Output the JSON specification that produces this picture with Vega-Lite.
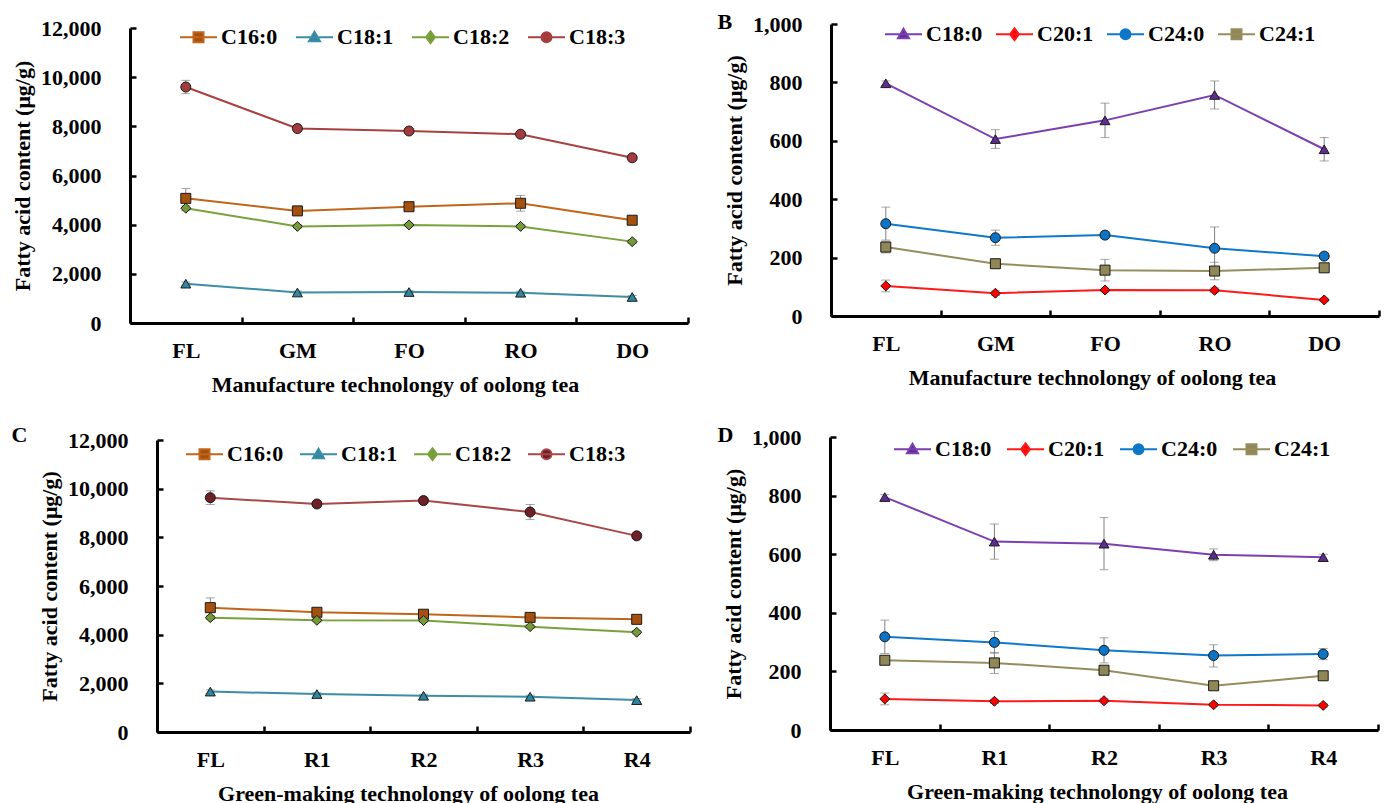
{
  "$schema": "https://vega.github.io/schema/vega-lite/v6.json",
  "background": "white",
  "padding": {"left": 11, "top": 11, "right": 0, "bottom": 0},
  "datasets": {
    "a": [
      {"stage": "FL", "acid": "C16:0", "value": 5070, "lo": 4670, "hi": 5470},
      {"stage": "GM", "acid": "C16:0", "value": 4560, "lo": 4460, "hi": 4660},
      {"stage": "FO", "acid": "C16:0", "value": 4730, "lo": 4620, "hi": 4840},
      {"stage": "RO", "acid": "C16:0", "value": 4870, "lo": 4550, "hi": 5190},
      {"stage": "DO", "acid": "C16:0", "value": 4180, "lo": 4080, "hi": 4280},
      {"stage": "FL", "acid": "C18:1", "value": 1600, "lo": 1530, "hi": 1670},
      {"stage": "GM", "acid": "C18:1", "value": 1240, "lo": 1180, "hi": 1300},
      {"stage": "FO", "acid": "C18:1", "value": 1260, "lo": 1200, "hi": 1320},
      {"stage": "RO", "acid": "C18:1", "value": 1230, "lo": 1170, "hi": 1290},
      {"stage": "DO", "acid": "C18:1", "value": 1060, "lo": 1000, "hi": 1120},
      {"stage": "FL", "acid": "C18:2", "value": 4670, "lo": 4570, "hi": 4770},
      {"stage": "GM", "acid": "C18:2", "value": 3930, "lo": 3860, "hi": 4000},
      {"stage": "FO", "acid": "C18:2", "value": 3990, "lo": 3920, "hi": 4060},
      {"stage": "RO", "acid": "C18:2", "value": 3930, "lo": 3860, "hi": 4000},
      {"stage": "DO", "acid": "C18:2", "value": 3310, "lo": 3240, "hi": 3380},
      {"stage": "FL", "acid": "C18:3", "value": 9600, "lo": 9330, "hi": 9870},
      {"stage": "GM", "acid": "C18:3", "value": 7910, "lo": 7830, "hi": 7990},
      {"stage": "FO", "acid": "C18:3", "value": 7810, "lo": 7730, "hi": 7890},
      {"stage": "RO", "acid": "C18:3", "value": 7680, "lo": 7600, "hi": 7760},
      {"stage": "DO", "acid": "C18:3", "value": 6720, "lo": 6640, "hi": 6800}
    ],
    "b": [
      {"stage": "FL", "acid": "C18:0", "value": 797, "lo": 789, "hi": 805},
      {"stage": "GM", "acid": "C18:0", "value": 606, "lo": 574, "hi": 638},
      {"stage": "FO", "acid": "C18:0", "value": 670, "lo": 611, "hi": 729},
      {"stage": "RO", "acid": "C18:0", "value": 757, "lo": 709, "hi": 805},
      {"stage": "DO", "acid": "C18:0", "value": 571, "lo": 531, "hi": 611},
      {"stage": "FL", "acid": "C20:1", "value": 103, "lo": 83, "hi": 123},
      {"stage": "GM", "acid": "C20:1", "value": 78, "lo": 70, "hi": 86},
      {"stage": "FO", "acid": "C20:1", "value": 89, "lo": 82, "hi": 96},
      {"stage": "RO", "acid": "C20:1", "value": 88, "lo": 80, "hi": 96},
      {"stage": "DO", "acid": "C20:1", "value": 55, "lo": 49, "hi": 61},
      {"stage": "FL", "acid": "C24:0", "value": 316, "lo": 260, "hi": 373},
      {"stage": "GM", "acid": "C24:0", "value": 268, "lo": 242, "hi": 294},
      {"stage": "FO", "acid": "C24:0", "value": 277, "lo": 265, "hi": 289},
      {"stage": "RO", "acid": "C24:0", "value": 232, "lo": 160, "hi": 305},
      {"stage": "DO", "acid": "C24:0", "value": 205, "lo": 197, "hi": 213},
      {"stage": "FL", "acid": "C24:1", "value": 236, "lo": 216, "hi": 256},
      {"stage": "GM", "acid": "C24:1", "value": 179, "lo": 170, "hi": 188},
      {"stage": "FO", "acid": "C24:1", "value": 157, "lo": 120, "hi": 194},
      {"stage": "RO", "acid": "C24:1", "value": 154, "lo": 124, "hi": 184},
      {"stage": "DO", "acid": "C24:1", "value": 165, "lo": 157, "hi": 173}
    ],
    "c": [
      {"stage": "FL", "acid": "C16:0", "value": 5110, "lo": 4710, "hi": 5510},
      {"stage": "R1", "acid": "C16:0", "value": 4920, "lo": 4820, "hi": 5020},
      {"stage": "R2", "acid": "C16:0", "value": 4840, "lo": 4740, "hi": 4940},
      {"stage": "R3", "acid": "C16:0", "value": 4710, "lo": 4610, "hi": 4810},
      {"stage": "R4", "acid": "C16:0", "value": 4630, "lo": 4560, "hi": 4700},
      {"stage": "FL", "acid": "C18:1", "value": 1660, "lo": 1590, "hi": 1730},
      {"stage": "R1", "acid": "C18:1", "value": 1560, "lo": 1500, "hi": 1620},
      {"stage": "R2", "acid": "C18:1", "value": 1490, "lo": 1430, "hi": 1550},
      {"stage": "R3", "acid": "C18:1", "value": 1450, "lo": 1390, "hi": 1510},
      {"stage": "R4", "acid": "C18:1", "value": 1310, "lo": 1250, "hi": 1370},
      {"stage": "FL", "acid": "C18:2", "value": 4700, "lo": 4620, "hi": 4780},
      {"stage": "R1", "acid": "C18:2", "value": 4590, "lo": 4520, "hi": 4660},
      {"stage": "R2", "acid": "C18:2", "value": 4580, "lo": 4510, "hi": 4650},
      {"stage": "R3", "acid": "C18:2", "value": 4330, "lo": 4260, "hi": 4400},
      {"stage": "R4", "acid": "C18:2", "value": 4100, "lo": 4030, "hi": 4170},
      {"stage": "FL", "acid": "C18:3", "value": 9630, "lo": 9350, "hi": 9910},
      {"stage": "R1", "acid": "C18:3", "value": 9370, "lo": 9290, "hi": 9450},
      {"stage": "R2", "acid": "C18:3", "value": 9510, "lo": 9430, "hi": 9590},
      {"stage": "R3", "acid": "C18:3", "value": 9040, "lo": 8730, "hi": 9350},
      {"stage": "R4", "acid": "C18:3", "value": 8060, "lo": 7980, "hi": 8140}
    ],
    "d": [
      {"stage": "FL", "acid": "C18:0", "value": 795, "lo": 787, "hi": 803},
      {"stage": "R1", "acid": "C18:0", "value": 643, "lo": 583, "hi": 703},
      {"stage": "R2", "acid": "C18:0", "value": 636, "lo": 547, "hi": 725},
      {"stage": "R3", "acid": "C18:0", "value": 598, "lo": 578, "hi": 618},
      {"stage": "R4", "acid": "C18:0", "value": 590, "lo": 580, "hi": 600},
      {"stage": "FL", "acid": "C20:1", "value": 106, "lo": 86, "hi": 126},
      {"stage": "R1", "acid": "C20:1", "value": 98, "lo": 91, "hi": 105},
      {"stage": "R2", "acid": "C20:1", "value": 100, "lo": 93, "hi": 107},
      {"stage": "R3", "acid": "C20:1", "value": 86, "lo": 80, "hi": 92},
      {"stage": "R4", "acid": "C20:1", "value": 84, "lo": 78, "hi": 90},
      {"stage": "FL", "acid": "C24:0", "value": 318, "lo": 261, "hi": 375},
      {"stage": "R1", "acid": "C24:0", "value": 299, "lo": 262, "hi": 336},
      {"stage": "R2", "acid": "C24:0", "value": 272, "lo": 229, "hi": 315},
      {"stage": "R3", "acid": "C24:0", "value": 254, "lo": 215, "hi": 291},
      {"stage": "R4", "acid": "C24:0", "value": 259, "lo": 240, "hi": 278},
      {"stage": "FL", "acid": "C24:1", "value": 238, "lo": 228, "hi": 248},
      {"stage": "R1", "acid": "C24:1", "value": 229, "lo": 193, "hi": 265},
      {"stage": "R2", "acid": "C24:1", "value": 204, "lo": 194, "hi": 214},
      {"stage": "R3", "acid": "C24:1", "value": 151, "lo": 142, "hi": 160},
      {"stage": "R4", "acid": "C24:1", "value": 185, "lo": 175, "hi": 195}
    ]
  },
  "columns": 2,
  "align": "none",
  "bounds": "full",
  "spacing": {"row": 29, "column": 25},
  "concat": [
    {
      "width": 558, "height": 299,
      "data": {"name": "a"},
      "resolve": {"scale": {"fill": "independent", "shape": "independent", "stroke": "independent"}},
      "layer": [
        {"mark": {"type": "rule", "color": "#808080", "strokeWidth": 1},
         "encoding": {
           "x": {"field": "stage", "type": "nominal", "scale": {"domain": ["FL", "GM", "FO", "RO", "DO"], "paddingInner": 0, "paddingOuter": 0}, "axis": {"title": "Manufacture technolongy of oolong tea", "titleX": 265}},
           "y": {"field": "lo", "type": "quantitative", "scale": {"domain": [0, 12000], "nice": false, "range": [299, 4]}, "axis": {"title": "Fatty acid content (μg/g)", "values": [0, 2000, 4000, 6000, 8000, 10000, 12000]}},
           "y2": {"field": "hi"}}},
        {"mark": {"type": "tick", "color": "#808080", "thickness": 1, "size": 9, "orient": "horizontal"},
         "encoding": {"x": {"field": "stage", "type": "nominal"}, "y": {"field": "lo", "type": "quantitative"}}},
        {"mark": {"type": "tick", "color": "#808080", "thickness": 1, "size": 9, "orient": "horizontal"},
         "encoding": {"x": {"field": "stage", "type": "nominal"}, "y": {"field": "hi", "type": "quantitative"}}},
        {"mark": {"type": "line", "strokeWidth": 2},
         "encoding": {
           "x": {"field": "stage", "type": "nominal"},
           "y": {"field": "value", "type": "quantitative"},
           "color": {"field": "acid", "type": "nominal", "scale": {"domain": ["C16:0", "C18:1", "C18:2", "C18:3"], "range": ["#C0651A", "#3B8EA5", "#7AA23C", "#A8403F"]}, "legend": null}}},
        {"transform": [{"filter": "false"}],
         "mark": {"type": "point", "filled": true, "strokeWidth": 2, "opacity": 1},
         "encoding": {
           "x": {"field": "stage", "type": "nominal"},
           "y": {"field": "value", "type": "quantitative"},
           "fill": {"field": "acid", "type": "nominal", "scale": {"domain": ["C16:0", "C18:1", "C18:2", "C18:3"], "range": ["#A5500E", "#2F86A0", "#76993A", "#A23A3E"]},
             "legend": {"title": null, "orient": "none", "legendX": 49, "legendY": -6.5, "direction": "horizontal", "columnPadding": 14}},
           "stroke": {"field": "acid", "type": "nominal", "scale": {"domain": ["C16:0", "C18:1", "C18:2", "C18:3"], "range": ["#C0651A", "#3B8EA5", "#7AA23C", "#A8403F"]},
             "legend": {"title": null, "orient": "none", "legendX": 49, "legendY": -6.5, "direction": "horizontal", "columnPadding": 14}},
           "shape": {"field": "acid", "type": "nominal", "scale": {"domain": ["C16:0", "C18:1", "C18:2", "C18:3"], "range": ["M-1,0H1M-0.27,-0.27H0.27V0.27H-0.27Z", "M-1,0H1M0,-0.3L0.3,0.22L-0.3,0.22Z", "M-1,0H1M0,-0.32L0.24,0L0,0.32L-0.24,0Z", "M-1,0H1M0.27,0A0.27,0.27,0,1,1,-0.27,0A0.27,0.27,0,1,1,0.27,0Z"]},
             "legend": {"title": null, "orient": "none", "legendX": 49, "legendY": -6.5, "direction": "horizontal", "columnPadding": 14}}}},
        {"mark": {"type": "point", "filled": true, "size": 100, "stroke": "#1a1a1a", "strokeWidth": 1, "opacity": 1},
         "encoding": {
           "x": {"field": "stage", "type": "nominal"},
           "y": {"field": "value", "type": "quantitative"},
           "fill": {"field": "acid", "type": "nominal", "scale": {"domain": ["C16:0", "C18:1", "C18:2", "C18:3"], "range": ["#A5500E", "#2F86A0", "#76993A", "#A23A3E"]}, "legend": null},
           "shape": {"field": "acid", "type": "nominal", "scale": {"domain": ["C16:0", "C18:1", "C18:2", "C18:3"], "range": ["square", "triangle-up", "diamond", "circle"]}, "legend": null}}}
      ]
    },
    {
      "width": 548, "height": 292,
      "title": {"text": "B", "dx": -6, "dy": 25},
      "data": {"name": "b"},
      "resolve": {"scale": {"fill": "independent", "shape": "independent", "stroke": "independent"}},
      "layer": [
        {"mark": {"type": "rule", "color": "#808080", "strokeWidth": 1},
         "encoding": {
           "x": {"field": "stage", "type": "nominal", "scale": {"domain": ["FL", "GM", "FO", "RO", "DO"], "paddingInner": 0, "paddingOuter": 0}, "axis": {"title": "Manufacture technolongy of oolong tea", "titleX": 261}},
           "y": {"field": "lo", "type": "quantitative", "scale": {"domain": [0, 1000], "nice": false}, "axis": {"title": "Fatty acid content (μg/g)", "values": [0, 200, 400, 600, 800, 1000]}},
           "y2": {"field": "hi"}}},
        {"mark": {"type": "tick", "color": "#808080", "thickness": 1, "size": 9, "orient": "horizontal"},
         "encoding": {"x": {"field": "stage", "type": "nominal"}, "y": {"field": "lo", "type": "quantitative"}}},
        {"mark": {"type": "tick", "color": "#808080", "thickness": 1, "size": 9, "orient": "horizontal"},
         "encoding": {"x": {"field": "stage", "type": "nominal"}, "y": {"field": "hi", "type": "quantitative"}}},
        {"mark": {"type": "line", "strokeWidth": 2},
         "encoding": {
           "x": {"field": "stage", "type": "nominal"},
           "y": {"field": "value", "type": "quantitative"},
           "color": {"field": "acid", "type": "nominal", "scale": {"domain": ["C18:0", "C20:1", "C24:0", "C24:1"], "range": ["#7B3FB0", "#FF1A1A", "#1078C8", "#968D5E"]}, "legend": null}}},
        {"transform": [{"filter": "false"}],
         "mark": {"type": "point", "filled": true, "strokeWidth": 2, "opacity": 1},
         "encoding": {
           "x": {"field": "stage", "type": "nominal"},
           "y": {"field": "value", "type": "quantitative"},
           "fill": {"field": "acid", "type": "nominal", "scale": {"domain": ["C18:0", "C20:1", "C24:0", "C24:1"], "range": ["#5E2D91", "#FF0000", "#0B74C6", "#8F8755"]},
             "legend": {"title": null, "orient": "none", "legendX": 53, "legendY": -9.5, "direction": "horizontal", "columnPadding": 9}},
           "stroke": {"field": "acid", "type": "nominal", "scale": {"domain": ["C18:0", "C20:1", "C24:0", "C24:1"], "range": ["#7B3FB0", "#FF1A1A", "#1078C8", "#968D5E"]},
             "legend": {"title": null, "orient": "none", "legendX": 53, "legendY": -9.5, "direction": "horizontal", "columnPadding": 9}},
           "shape": {"field": "acid", "type": "nominal", "scale": {"domain": ["C18:0", "C20:1", "C24:0", "C24:1"], "range": ["M-1,0H1M0,-0.3L0.3,0.22L-0.3,0.22Z", "M-1,0H1M0,-0.32L0.24,0L0,0.32L-0.24,0Z", "M-1,0H1M0.27,0A0.27,0.27,0,1,1,-0.27,0A0.27,0.27,0,1,1,0.27,0Z", "M-1,0H1M-0.27,-0.27H0.27V0.27H-0.27Z"]},
             "legend": {"title": null, "orient": "none", "legendX": 53, "legendY": -9.5, "direction": "horizontal", "columnPadding": 9}}}},
        {"mark": {"type": "point", "filled": true, "size": 100, "stroke": "#1a1a1a", "strokeWidth": 1, "opacity": 1},
         "encoding": {
           "x": {"field": "stage", "type": "nominal"},
           "y": {"field": "value", "type": "quantitative"},
           "fill": {"field": "acid", "type": "nominal", "scale": {"domain": ["C18:0", "C20:1", "C24:0", "C24:1"], "range": ["#5E2D91", "#FF0000", "#0B74C6", "#8F8755"]}, "legend": null},
           "shape": {"field": "acid", "type": "nominal", "scale": {"domain": ["C18:0", "C20:1", "C24:0", "C24:1"], "range": ["triangle-up", "diamond", "circle", "square"]}, "legend": null}}}
      ]
    },
    {
      "width": 560, "height": 292,
      "title": {"text": "C", "dx": -27, "dy": 22},
      "data": {"name": "c"},
      "resolve": {"scale": {"fill": "independent", "shape": "independent", "stroke": "independent"}},
      "layer": [
        {"mark": {"type": "rule", "color": "#808080", "strokeWidth": 1},
         "encoding": {
           "x": {"field": "stage", "type": "nominal", "scale": {"domain": ["FL", "R1", "R2", "R3", "R4"], "paddingInner": 0, "paddingOuter": 0, "range": [27, 560]}, "axis": {"title": "Green-making technolongy of oolong tea", "titleX": 278}},
           "y": {"field": "lo", "type": "quantitative", "scale": {"domain": [0, 12000], "nice": false}, "axis": {"title": "Fatty acid content (μg/g)", "values": [0, 2000, 4000, 6000, 8000, 10000, 12000], "offset": -27}},
           "y2": {"field": "hi"}}},
        {"mark": {"type": "tick", "color": "#808080", "thickness": 1, "size": 9, "orient": "horizontal"},
         "encoding": {"x": {"field": "stage", "type": "nominal"}, "y": {"field": "lo", "type": "quantitative"}}},
        {"mark": {"type": "tick", "color": "#808080", "thickness": 1, "size": 9, "orient": "horizontal"},
         "encoding": {"x": {"field": "stage", "type": "nominal"}, "y": {"field": "hi", "type": "quantitative"}}},
        {"mark": {"type": "line", "strokeWidth": 2},
         "encoding": {
           "x": {"field": "stage", "type": "nominal"},
           "y": {"field": "value", "type": "quantitative"},
           "color": {"field": "acid", "type": "nominal", "scale": {"domain": ["C16:0", "C18:1", "C18:2", "C18:3"], "range": ["#C0651A", "#3B8EA5", "#7AA23C", "#A84848"]}, "legend": null}}},
        {"transform": [{"filter": "false"}],
         "mark": {"type": "point", "filled": true, "strokeWidth": 2, "opacity": 1},
         "encoding": {
           "x": {"field": "stage", "type": "nominal"},
           "y": {"field": "value", "type": "quantitative"},
           "fill": {"field": "acid", "type": "nominal", "scale": {"domain": ["C16:0", "C18:1", "C18:2", "C18:3"], "range": ["#A5500E", "#2F86A0", "#76993A", "#6E2026"]},
             "legend": {"title": null, "orient": "none", "legendX": 55, "legendY": -5.5, "direction": "horizontal", "columnPadding": 12}},
           "stroke": {"field": "acid", "type": "nominal", "scale": {"domain": ["C16:0", "C18:1", "C18:2", "C18:3"], "range": ["#C0651A", "#3B8EA5", "#7AA23C", "#A84848"]},
             "legend": {"title": null, "orient": "none", "legendX": 55, "legendY": -5.5, "direction": "horizontal", "columnPadding": 12}},
           "shape": {"field": "acid", "type": "nominal", "scale": {"domain": ["C16:0", "C18:1", "C18:2", "C18:3"], "range": ["M-1,0H1M-0.27,-0.27H0.27V0.27H-0.27Z", "M-1,0H1M0,-0.3L0.3,0.22L-0.3,0.22Z", "M-1,0H1M0,-0.32L0.24,0L0,0.32L-0.24,0Z", "M-1,0H1M0.27,0A0.27,0.27,0,1,1,-0.27,0A0.27,0.27,0,1,1,0.27,0Z"]},
             "legend": {"title": null, "orient": "none", "legendX": 55, "legendY": -5.5, "direction": "horizontal", "columnPadding": 12}}}},
        {"mark": {"type": "point", "filled": true, "size": 100, "stroke": "#1a1a1a", "strokeWidth": 1, "opacity": 1},
         "encoding": {
           "x": {"field": "stage", "type": "nominal"},
           "y": {"field": "value", "type": "quantitative"},
           "fill": {"field": "acid", "type": "nominal", "scale": {"domain": ["C16:0", "C18:1", "C18:2", "C18:3"], "range": ["#A5500E", "#2F86A0", "#76993A", "#6E2026"]}, "legend": null},
           "shape": {"field": "acid", "type": "nominal", "scale": {"domain": ["C16:0", "C18:1", "C18:2", "C18:3"], "range": ["square", "triangle-up", "diamond", "circle"]}, "legend": null}}}
      ]
    },
    {
      "width": 548, "height": 293,
      "title": {"text": "D", "dx": -5, "dy": 25},
      "data": {"name": "d"},
      "resolve": {"scale": {"fill": "independent", "shape": "independent", "stroke": "independent"}},
      "layer": [
        {"mark": {"type": "rule", "color": "#808080", "strokeWidth": 1},
         "encoding": {
           "x": {"field": "stage", "type": "nominal", "scale": {"domain": ["FL", "R1", "R2", "R3", "R4"], "paddingInner": 0, "paddingOuter": 0}, "axis": {"title": "Green-making technolongy of oolong tea", "titleX": 267}},
           "y": {"field": "lo", "type": "quantitative", "scale": {"domain": [0, 1000], "nice": false}, "axis": {"title": "Fatty acid content (μg/g)", "values": [0, 200, 400, 600, 800, 1000]}},
           "y2": {"field": "hi"}}},
        {"mark": {"type": "tick", "color": "#808080", "thickness": 1, "size": 9, "orient": "horizontal"},
         "encoding": {"x": {"field": "stage", "type": "nominal"}, "y": {"field": "lo", "type": "quantitative"}}},
        {"mark": {"type": "tick", "color": "#808080", "thickness": 1, "size": 9, "orient": "horizontal"},
         "encoding": {"x": {"field": "stage", "type": "nominal"}, "y": {"field": "hi", "type": "quantitative"}}},
        {"mark": {"type": "line", "strokeWidth": 2},
         "encoding": {
           "x": {"field": "stage", "type": "nominal"},
           "y": {"field": "value", "type": "quantitative"},
           "color": {"field": "acid", "type": "nominal", "scale": {"domain": ["C18:0", "C20:1", "C24:0", "C24:1"], "range": ["#7B3FB0", "#FF1A1A", "#1078C8", "#968D5E"]}, "legend": null}}},
        {"transform": [{"filter": "false"}],
         "mark": {"type": "point", "filled": true, "strokeWidth": 2, "opacity": 1},
         "encoding": {
           "x": {"field": "stage", "type": "nominal"},
           "y": {"field": "value", "type": "quantitative"},
           "fill": {"field": "acid", "type": "nominal", "scale": {"domain": ["C18:0", "C20:1", "C24:0", "C24:1"], "range": ["#5E2D91", "#FF0000", "#0B74C6", "#8F8755"]},
             "legend": {"title": null, "orient": "none", "legendX": 63, "legendY": -7.5, "direction": "horizontal", "columnPadding": 11}},
           "stroke": {"field": "acid", "type": "nominal", "scale": {"domain": ["C18:0", "C20:1", "C24:0", "C24:1"], "range": ["#7B3FB0", "#FF1A1A", "#1078C8", "#968D5E"]},
             "legend": {"title": null, "orient": "none", "legendX": 63, "legendY": -7.5, "direction": "horizontal", "columnPadding": 11}},
           "shape": {"field": "acid", "type": "nominal", "scale": {"domain": ["C18:0", "C20:1", "C24:0", "C24:1"], "range": ["M-1,0H1M0,-0.3L0.3,0.22L-0.3,0.22Z", "M-1,0H1M0,-0.32L0.24,0L0,0.32L-0.24,0Z", "M-1,0H1M0.27,0A0.27,0.27,0,1,1,-0.27,0A0.27,0.27,0,1,1,0.27,0Z", "M-1,0H1M-0.27,-0.27H0.27V0.27H-0.27Z"]},
             "legend": {"title": null, "orient": "none", "legendX": 63, "legendY": -7.5, "direction": "horizontal", "columnPadding": 11}}}},
        {"mark": {"type": "point", "filled": true, "size": 100, "stroke": "#1a1a1a", "strokeWidth": 1, "opacity": 1},
         "encoding": {
           "x": {"field": "stage", "type": "nominal"},
           "y": {"field": "value", "type": "quantitative"},
           "fill": {"field": "acid", "type": "nominal", "scale": {"domain": ["C18:0", "C20:1", "C24:0", "C24:1"], "range": ["#5E2D91", "#FF0000", "#0B74C6", "#8F8755"]}, "legend": null},
           "shape": {"field": "acid", "type": "nominal", "scale": {"domain": ["C18:0", "C20:1", "C24:0", "C24:1"], "range": ["triangle-up", "diamond", "circle", "square"]}, "legend": null}}}
      ]
    }
  ],
  "resolve": {"scale": {"x": "independent", "y": "independent", "color": "independent", "fill": "independent", "shape": "independent", "stroke": "independent"}, "axis": {"x": "independent", "y": "independent"}},
  "config": {
    "view": {"stroke": null},
    "axis": {"grid": false, "domainColor": "#000", "domainWidth": 3, "tickColor": "#000", "tickWidth": 2.5, "tickSize": -6,
      "labelFont": "Liberation Serif, DejaVu Serif, serif", "labelFontWeight": "bold", "labelFontSize": 22, "labelColor": "#000",
      "titleFont": "Liberation Serif, DejaVu Serif, serif", "titleFontWeight": "bold", "titleFontSize": 22, "titleColor": "#000"},
    "axisX": {"labelAngle": 0, "tickBand": "extent", "labelPadding": 23, "titlePadding": 13},
    "axisY": {"labelPadding": 35, "titlePadding": 6, "format": ",d"},
    "legend": {"labelFont": "Liberation Serif, DejaVu Serif, serif", "labelFontWeight": "bold", "labelFontSize": 22, "labelColor": "#000",
      "symbolSize": 1369, "symbolStrokeWidth": 2, "labelOffset": 3, "padding": 0},
    "title": {"font": "Liberation Serif, DejaVu Serif, serif", "fontWeight": "bold", "fontSize": 22, "color": "#000", "anchor": "start", "frame": "bounds", "offset": 0}
  }
}
